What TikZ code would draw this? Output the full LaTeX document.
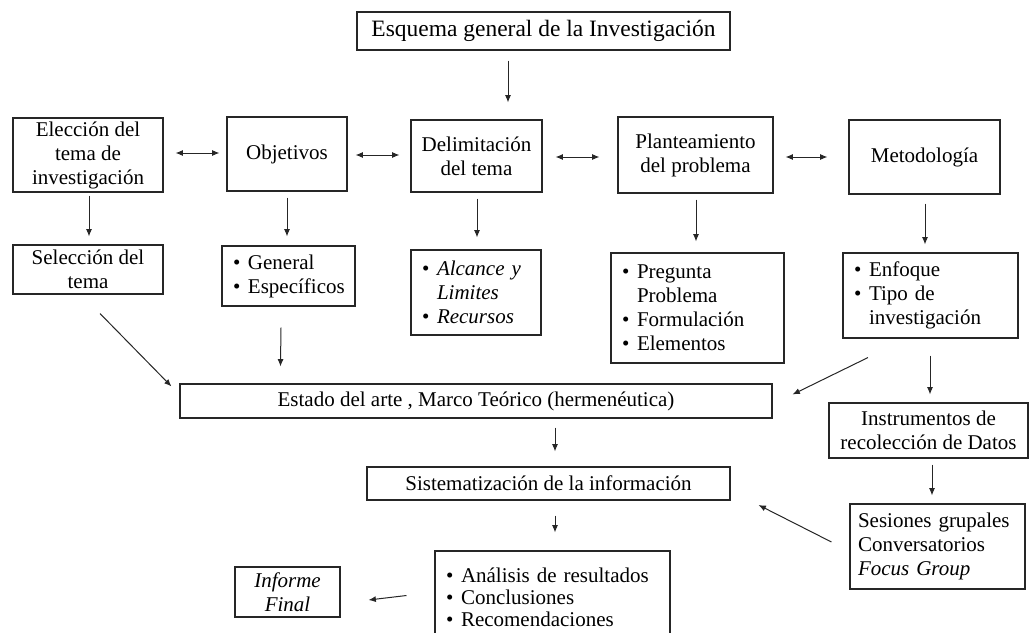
\documentclass[tikz,border=0pt]{standalone}
\usepackage{fontspec}
\setmainfont{Liberation Serif}
\usetikzlibrary{arrows.meta}
\newcommand{\bodyfont}{\fontsize{15.75}{18}\selectfont}
\newcommand{\tightfont}{\fontsize{15.75}{16.5}\selectfont}
\newcommand{\titlefont}{\fontsize{17.6}{21}\selectfont}
\newcommand{\bi}{\makebox[11.25pt][l]{\textbullet}}
\newcommand{\bc}{\hspace*{11.25pt}}
\tikzset{
  box/.style={draw=black!85, line width=0.8pt, inner sep=0pt, font=\bodyfont, align=center},
  bul/.style={box, align=left},
  arr/.style={draw=black!85, line width=0.75pt, -{Latex[length=5.5pt,width=4.5pt]}},
  dbl/.style={draw=black!85, line width=0.75pt, {Latex[length=5.5pt,width=4.5pt]}-{Latex[length=5.5pt,width=4.5pt]}}
}
\begin{document}
\begin{tikzpicture}[x=0.75pt, y=-0.75pt]
\useasboundingbox (0,0) rectangle (1031,632);
\clip (0,0) rectangle (1031,632);
% boxes
\node[box, font=\titlefont, minimum width=279.75pt, minimum height=28.5pt] (title) at (543.5,31) {Esquema general de la Investigación};
\node[box, minimum width=112.5pt, minimum height=55.5pt] (elec) at (88,155) {Elección del\\tema de\\investigación};
\node[box, minimum width=90pt, minimum height=55.5pt] (obj) at (287,154) {Objetivos};
\node[box, minimum width=98.25pt, minimum height=54pt] (delim) at (476.5,156) {Delimitación\\del tema};
\node[box, minimum width=116.25pt, minimum height=57pt] (plant) at (695.5,155) {Planteamiento\\del problema};
\node[box, minimum width=113.25pt, minimum height=55.5pt] (metod) at (924.5,157) {Metodología};
\node[box, minimum width=112.5pt, minimum height=36.75pt] (selec) at (88,269.5) {Selección del\\tema};
\node[bul, text width=83.25pt, minimum width=99.75pt, minimum height=45pt] (gen) at (288.5,276) {\bi General\\\bi Específicos};
\node[bul, text width=81pt, minimum width=97.5pt, minimum height=63.75pt] (alc) at (476,292.5) {\bi\textit{Alcance y}\\\bc\textit{Limites}\\\bi\textit{Recursos}};
\node[bul, text width=113.25pt, minimum width=129.75pt, minimum height=82.5pt] (preg) at (697.5,308) {\bi Pregunta\\\bc Problema\\\bi Formulación\\\bi Elementos};
\node[bul, text width=114.75pt, minimum width=131.25pt, minimum height=63.75pt] (enf) at (930.5,295.5) {\bi Enfoque\\\bi Tipo de\\\bc investigación};
\node[box, minimum width=444pt, minimum height=25.5pt] (estado) at (476,401) {Estado del arte , Marco Teórico (hermenéutica)};
\node[box, minimum width=149.25pt, minimum height=41.25pt] (instr) at (928.5,430.5) {Instrumentos de\\recolección de Datos};
\node[box, minimum width=272.25pt, minimum height=24.75pt] (sist) at (548.5,483.5) {Sistematización de la información};
\node[bul, text width=119.25pt, minimum width=131.25pt, minimum height=63.75pt] (ses) at (937.5,546.5) {Sesiones grupales\\Conversatorios\\\textit{Focus Group}};
\node[bul, font=\tightfont, text width=159.75pt, minimum width=176.25pt, minimum height=69pt] (anal) at (552.5,597) {\bi Análisis de resultados\\\bi Conclusiones\\\bi Recomendaciones};
\node[box, minimum width=78.75pt, minimum height=37.5pt] (inf) at (287.5,592) {\textit{Informe}\\\textit{Final}};
% connectors
\draw[arr] ([shift={(-35.5,10)}]title.south) -- ([shift={(31.5,-17)}]delim.north);
\draw[dbl] ([shift={(12,-2)}]elec.east) -- ([shift={(-7,-1)}]obj.west);
\draw[dbl] ([shift={(8,1)}]obj.east) -- ([shift={(-11,-1)}]delim.west);
\draw[dbl] ([shift={(13,1)}]delim.east) -- ([shift={(-18,2)}]plant.west);
\draw[dbl] ([shift={(12,2)}]plant.east) -- ([shift={(-21,0)}]metod.west);
\draw[arr] ([shift={(1,3)}]elec.south) -- ([shift={(1,-8)}]selec.north);
\draw[arr] ([shift={(0,6)}]obj.south) -- ([shift={(-1.5,-9)}]gen.north);
\draw[arr] ([shift={(0.5,6)}]delim.south) -- ([shift={(1,-12)}]alc.north);
\draw[arr] ([shift={(0.5,6)}]plant.south) -- ([shift={(-1.5,-11)}]preg.north);
\draw[arr] ([shift={(0.5,9)}]metod.south) -- ([shift={(-5.5,-8)}]enf.north);
\draw[arr] ([shift={(12,19)}]selec.south) -- ([shift={(-8,3)}]estado.north west);
\draw[arr] ([shift={(-7.5,21)}]gen.south) -- ([shift={(101,-17)}]estado.north west);
\draw[arr] ([shift={(-62.5,19)}]enf.south) -- ([shift={(20,11)}]estado.north east);
\draw[arr] ([shift={(-0.5,17)}]enf.south) -- ([shift={(1.5,-8)}]instr.north);
\draw[arr] ([shift={(79,9)}]estado.south) -- ([shift={(6.5,-15)}]sist.north);
\draw[arr] ([shift={(3.5,6)}]instr.south) -- ([shift={(-5.5,-8)}]ses.north);
\draw[arr] ([shift={(-18,-4.5)}]ses.west) -- ([shift={(28,21.5)}]sist.east);
\draw[arr] ([shift={(6.5,15)}]sist.south) -- ([shift={(2.5,-18)}]anal.north);
\draw[arr] ([shift={(-28,-1.5)}]anal.west) -- ([shift={(28,8)}]inf.east);
\end{tikzpicture}
\end{document}
